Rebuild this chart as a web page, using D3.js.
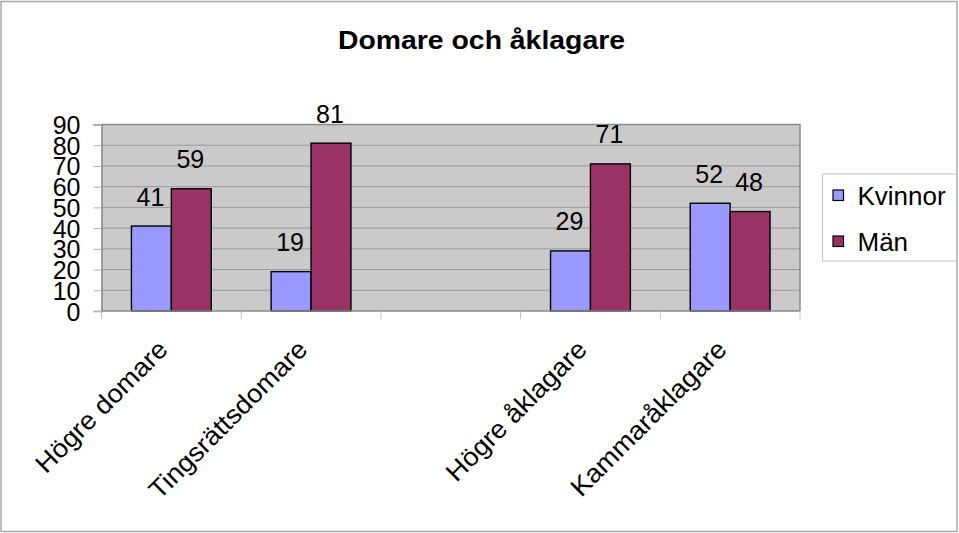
<!DOCTYPE html>
<html>
<head>
<meta charset="utf-8">
<script src="https://cdn.jsdelivr.net/npm/d3@7"></script>
<style>
  html, body { margin: 0; padding: 0; background: #fff; }
  svg { display: block; font-family: "Liberation Sans", Arial, Helvetica, sans-serif; }
</style>
</head>
<body>
<svg id="chart" width="959" height="533"></svg>
<script>
const title = "Domare och åklagare";
const categories = ["Högre domare", "Tingsrättsdomare", "", "Högre åklagare", "Kammaråklagare"];
const seriesNames = ["Kvinnor", "Män"];
const kvinnor = [41, 19, null, 29, 52];
const man = [59, 81, null, 71, 48];
const yTicks = [0, 10, 20, 30, 40, 50, 60, 70, 80, 90];
const colors = ["#9999ff", "#993366"];

const svg = d3.select("#chart");
const W = 959, H = 533;
const plot = { left: 101.5, right: 800, top: 124.5, bottom: 311 };

// outer border
svg.append("rect").attr("x", 1).attr("y", 1.5).attr("width", W - 3).attr("height", H - 3)
  .attr("fill", "#fff").attr("stroke", "#a8a8a8").attr("stroke-width", 1.5);

// title
svg.append("text").attr("x", 481.5).attr("y", 48.5).attr("text-anchor", "middle")
  .attr("font-size", 25).attr("font-weight", "bold").attr("fill", "#000")
  .attr("textLength", 287).attr("lengthAdjust", "spacingAndGlyphs")
  .text(title);

const x = d3.scaleBand().domain(categories).range([plot.left, plot.right]).paddingInner(0).paddingOuter(0);
const xs = d3.scaleBand().domain(seriesNames).range([0, x.bandwidth()]).paddingInner(0).paddingOuter(0.75);
const y = d3.scaleLinear().domain([0, 90]).range([plot.bottom, plot.top]);

// plot area
svg.append("rect").attr("x", plot.left).attr("y", plot.top)
  .attr("width", plot.right - plot.left).attr("height", plot.bottom - plot.top)
  .attr("fill", "#cacaca");

// gridlines
svg.append("g").selectAll("line").data(yTicks.filter(d => d > 0 && d < 90)).join("line")
  .attr("x1", plot.left).attr("x2", plot.right)
  .attr("y1", d => y(d)).attr("y2", d => y(d))
  .attr("stroke", "#9a9a9a").attr("stroke-width", 1);

// plot border top/right
svg.append("path")
  .attr("d", `M${plot.left},${plot.top}H${plot.right}V${plot.bottom}`)
  .attr("fill", "none").attr("stroke", "#8a8a8a").attr("stroke-width", 1.5);

// bars
const series = [kvinnor, man];
series.forEach((vals, si) => {
  svg.append("g").selectAll("rect")
    .data(categories.map((c, i) => ({ c, v: vals[i] })).filter(d => d.v != null))
    .join("rect")
    .attr("x", d => x(d.c) + xs(seriesNames[si]))
    .attr("y", d => y(d.v))
    .attr("width", xs.bandwidth())
    .attr("height", d => y(0) - y(d.v))
    .attr("fill", colors[si])
    .attr("stroke", "#000").attr("stroke-width", 1.4);
  svg.append("g").selectAll("text")
    .data(categories.map((c, i) => ({ c, v: vals[i] })).filter(d => d.v != null))
    .join("text")
    .attr("x", d => x(d.c) + xs(seriesNames[si]) + xs.bandwidth() / 2 - 1)
    .attr("y", d => y(d.v) - 20.5)
    .attr("text-anchor", "middle").attr("font-size", 25).attr("fill", "#000")
    .text(d => d.v);
});

// y axis
const yAxis = d3.axisLeft(y).tickValues(yTicks).tickSize(8).tickPadding(13).tickFormat(d3.format("d"));
const yg = svg.append("g").attr("transform", `translate(${plot.left},0)`).call(yAxis);
yg.select(".domain").attr("stroke", "#8a8a8a").attr("stroke-width", 1.5);
yg.selectAll(".tick line").attr("stroke", "#b0b0b0");
yg.selectAll(".tick text").attr("font-size", 25).attr("fill", "#000")
  .attr("font-family", "\"Liberation Sans\", Arial, sans-serif").attr("dy", "0.36em");

// x axis line
svg.append("line").attr("x1", plot.left).attr("x2", plot.right)
  .attr("y1", plot.bottom).attr("y2", plot.bottom)
  .attr("stroke", "#8a8a8a").attr("stroke-width", 1.5);
// boundary ticks
const bounds = categories.map(c => x(c)).concat([x.range()[1]]);
svg.append("g").selectAll("line").data(bounds).join("line")
  .attr("x1", d => d).attr("x2", d => d)
  .attr("y1", plot.bottom).attr("y2", plot.bottom + 8)
  .attr("stroke", "#c4c4c4").attr("stroke-width", 1);

// x labels rotated
svg.append("g").selectAll("text").data(categories.filter(c => c !== "")).join("text")
  .attr("transform", d => `translate(${x(d) + x.bandwidth() / 2 - 2},351) rotate(-45)`)
  .attr("text-anchor", "end").attr("font-size", 26).attr("fill", "#000")
  .text(d => d)
  .each(function () {
    const len = this.getComputedTextLength();
    d3.select(this).attr("textLength", len * 1.05).attr("lengthAdjust", "spacingAndGlyphs");
  });

// legend
const lg = svg.append("g");
lg.append("rect").attr("x", 822.5).attr("y", 174).attr("width", 134).attr("height", 87)
  .attr("fill", "#fff").attr("stroke", "#c0c0c0").attr("stroke-width", 1);
seriesNames.forEach((s, i) => {
  const yy = 190 + i * 46;
  lg.append("rect").attr("x", 833).attr("y", yy).attr("width", 10.5).attr("height", 10.5)
    .attr("fill", colors[i]).attr("stroke", "#000").attr("stroke-width", 1.2);
  lg.append("text").attr("x", 857.5).attr("y", yy + 14.5).attr("font-size", 26).attr("fill", "#000").text(s);
});
</script>
</body>
</html>
